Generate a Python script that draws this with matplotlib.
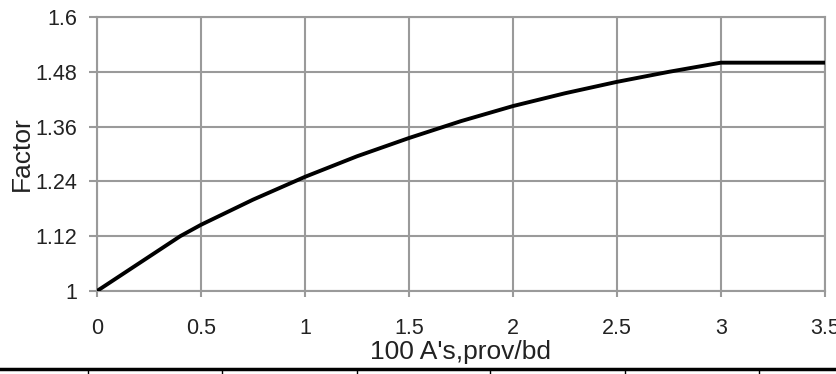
import matplotlib
matplotlib.use("Agg")
import matplotlib.pyplot as plt
from matplotlib.lines import Line2D

# reinforcement ratio (100 A's,prov/bd) vs factor
ratio = [0.0, 0.1, 0.25, 0.4, 0.5, 0.75, 1.0, 1.25, 1.5, 1.75, 2.0, 2.25, 2.5, 2.75, 3.0, 3.5]
factor = [1.0, 1.03, 1.075, 1.12, 1.145, 1.20, 1.25, 1.295, 1.335, 1.372, 1.405, 1.433, 1.458, 1.48, 1.50, 1.50]

xticks = [0, 0.5, 1, 1.5, 2, 2.5, 3, 3.5]
xtick_labels = ["0", "0.5", "1", "1.5", "2", "2.5", "3", "3.5"]
yticks = [1.0, 1.12, 1.24, 1.36, 1.48, 1.6]
ytick_labels = ["1", "1.12", "1.24", "1.36", "1.48", "1.6"]

plt.rcParams['font.family'] = ['Liberation Sans', 'DejaVu Sans']

grid_col = '#9a9a9a'
text_col = '#222222'
fig = plt.figure(figsize=(8.37, 3.74), dpi=100)
ax = fig.add_axes([97 / 837, 1 - 291 / 374, (825 - 97) / 837, (291 - 17) / 374])

ax.plot(ratio, factor, color='black', linewidth=2.8, solid_capstyle='butt', zorder=3)

ax.set_xlim(0, 3.5)
ax.set_ylim(1.0, 1.6)
ax.set_xticks(xticks)
ax.set_xticklabels(xtick_labels)
ax.set_yticks(yticks)
ax.set_yticklabels(ytick_labels)
ax.grid(True, color=grid_col, linewidth=1.5)
for s in ax.spines.values():
    s.set_color(grid_col)
    s.set_linewidth(1.5)
ax.tick_params(axis='both', colors=grid_col, labelcolor=text_col, labelsize=15.5, width=1.5)
ax.tick_params(axis='x', length=4.5, pad=15)
ax.tick_params(axis='y', length=6, pad=8)

ax.set_xlabel("100 A's,prov/bd", fontsize=19, color=text_col, labelpad=1)
ax.set_ylabel("Factor", fontsize=19, color=text_col, labelpad=1)

# table border at the bottom of the picture
fig.add_artist(Line2D([0, 1], [1 - 369 / 374] * 2, color='black', linewidth=2.5))
for px in [88, 222, 357, 490, 625, 759]:
    fig.add_artist(Line2D([px / 837] * 2, [0, 1 - 370 / 374], color='black', linewidth=1))

fig.savefig("out.png", dpi=100)
